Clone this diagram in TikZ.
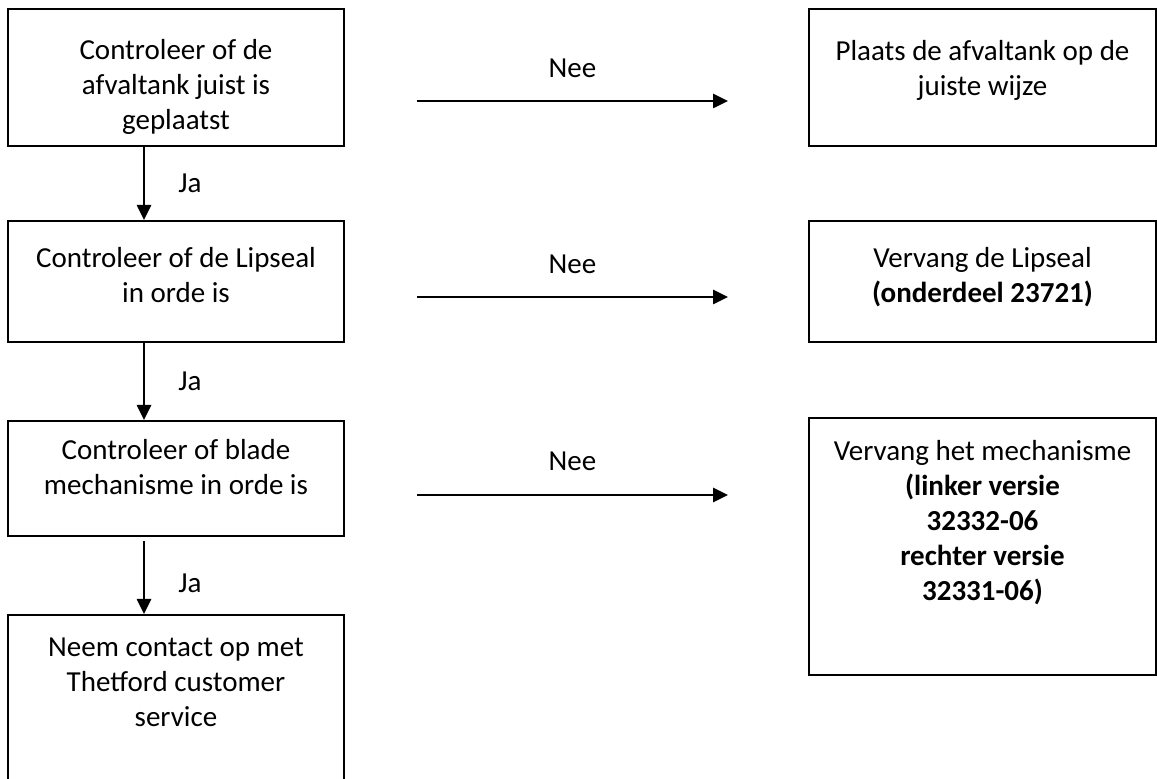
\documentclass[tikz,border=0pt]{standalone}
\usepackage{fontspec}
\setmainfont{Carlito}
\usetikzlibrary{arrows.meta,positioning}

\begin{document}
\begin{tikzpicture}[x=0.5pt, y=-0.5pt,
        box/.style={rectangle, draw, line width=1pt},
        chkbox/.style={box, minimum width=168pt},
        fixbox/.style={box, minimum width=173.5pt},
        txt/.style={align=center, inner sep=0pt, font=\fontsize{14.5}{17.5}\selectfont},
        arr/.style={-{Triangle[length=7.5pt, width=7pt]}, line width=1.3pt},
    ]
        \clip (0,0) rectangle (1157,779);

        % Left column: checks
        \node[chkbox, minimum height=68.5pt] (chk1) at (176,77.5) {};
        \node[txt] (chk1t) at (176,87) {Controleer of de\\afvaltank juist is\\geplaatst};
        \node[chkbox, minimum height=60.5pt] (chk2) at (176,281.5) {};
        \node[txt] (chk2t) at (176,275) {Controleer of de Lipseal\\in orde is};
        \node[chkbox, minimum height=57.5pt] (chk3) at (176,478.5) {};
        \node[txt] (chk3t) at (176,467.5) {Controleer of blade\\mechanisme in orde is};
        \node[chkbox, minimum height=92.5pt] (chk4) at (176,707.5) {};
        \node[txt] (chk4t) at (176,682) {Neem contact op met\\Thetford customer\\service};

        \draw[arr] ([xshift=-16pt]chk1.south) -- node[txt, right=16.5pt, midway] (ja1) {Ja} ([xshift=-16pt]chk2.north);
        \draw[arr] ([xshift=-16pt]chk2.south) -- node[txt, right=16.5pt, midway] (ja2) {Ja} ([xshift=-16pt]chk3.north);
        \draw[arr] ([xshift=-16pt, yshift=-2pt]chk3.south) -- node[txt, right=16.5pt, pos=0.58] (ja3) {Ja} ([xshift=-16pt]chk4.north);

        % Right column: fixes
        \node[fixbox, minimum height=68.5pt] (fix1) at (982.5,77.5) {};
        \node[txt] (fix1t) at (982.5,70) {Plaats de afvaltank op de\\juiste wijze};
        \node[fixbox, minimum height=60.5pt] (fix2) at (982.5,281.5) {};
        \node[txt] (fix2t) at (982.5,277) {Vervang de Lipseal\\\textbf{(onderdeel 23721)}};
        \node[fixbox, minimum height=128.5pt] (fix3) at (982.5,546.5) {};
        \node[txt] (fix3t) at (982.5,523) {Vervang het mechanisme\\\textbf{(linker versie}\\\textbf{32332-06}\\\textbf{rechter versie}\\\textbf{32331-06)}};

        % Nee arrows
        \coordinate (nee1a) at (417,101);
        \coordinate (nee1b) at (728,101);
        \coordinate (nee2a) at (417,297);
        \coordinate (nee2b) at (728,297);
        \coordinate (nee3a) at (417,495);
        \coordinate (nee3b) at (728,495);
        \draw[arr] (nee1a) -- node[txt, above=11pt, midway] (nee1) {Nee} (nee1b);
        \draw[arr] (nee2a) -- node[txt, above=11pt, midway] (nee2) {Nee} (nee2b);
        \draw[arr] (nee3a) -- node[txt, above=11.5pt, midway] (nee3) {Nee} (nee3b);
    \end{tikzpicture}
\end{document}
